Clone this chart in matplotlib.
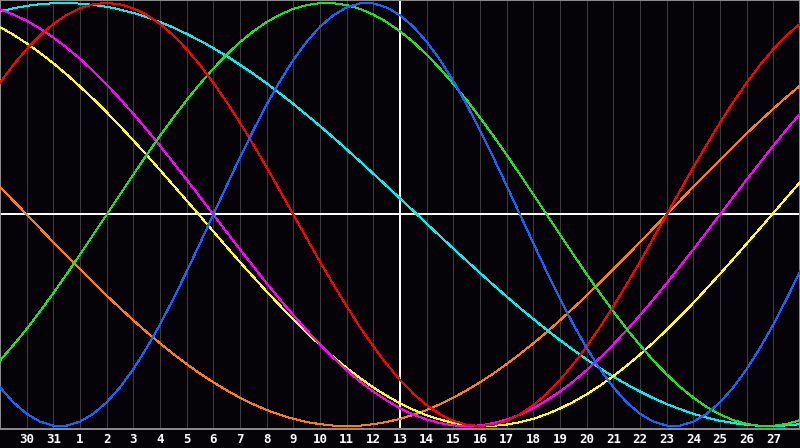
import numpy as np
import matplotlib
matplotlib.use("Agg")
import matplotlib.pyplot as plt

# positions in half-day steps, 0 = the 29th of last month
steps = np.arange(61) / 2.0

day_ticks = list(range(1, 30))
day_labels = ["30", "31"] + [str(d) for d in range(1, 28)]

# cycle values in percent, every half day
blue = [-81.7,-88.8,-94.2,-97.9,-99.8,-99.8,-97.9,-94.2,-88.8,-81.7,-73.1,-63.1,-52.0,-39.8,-27.0,-13.6,0.0,13.6,27.0,39.8,52.0,63.1,73.1,81.7,88.8,94.2,97.9,99.8,99.8,97.9,94.2,88.8,81.7,73.1,63.1,52.0,39.8,27.0,13.6,0.0,-13.6,-27.0,-39.8,-52.0,-63.1,-73.1,-81.7,-88.8,-94.2,-97.9,-99.8,-99.8,-97.9,-94.2,-88.8,-81.7,-73.1,-63.1,-52.0,-39.8,-27.0]
green = [-69.0,-61.8,-54.1,-45.8,-37.2,-28.2,-18.9,-9.5,0.0,9.5,18.9,28.2,37.2,45.8,54.1,61.8,69.0,75.6,81.5,86.6,91.0,94.5,97.2,99.0,99.9,99.9,99.0,97.2,94.5,91.0,86.6,81.5,75.6,69.0,61.8,54.1,45.8,37.2,28.2,18.9,9.5,0.0,-9.5,-18.9,-28.2,-37.2,-45.8,-54.1,-61.8,-69.0,-75.6,-81.5,-86.6,-91.0,-94.5,-97.2,-99.0,-99.9,-99.9,-99.0,-97.2]
red = [62.3,70.7,78.2,84.7,90.1,94.4,97.5,99.4,100.0,99.4,97.5,94.4,90.1,84.7,78.2,70.7,62.3,53.2,43.4,33.0,22.3,11.2,-0.0,-11.2,-22.3,-33.0,-43.4,-53.2,-62.3,-70.7,-78.2,-84.7,-90.1,-94.4,-97.5,-99.4,-100.0,-99.4,-97.5,-94.4,-90.1,-84.7,-78.2,-70.7,-62.3,-53.2,-43.4,-33.0,-22.3,-11.2,0.0,11.2,22.3,33.0,43.4,53.2,62.3,70.7,78.2,84.7,90.1]
magenta = [96.9,94.6,91.6,87.9,83.7,78.9,73.6,67.7,61.4,54.7,47.6,40.2,32.5,24.5,16.5,8.3,-0.0,-8.3,-16.5,-24.5,-32.5,-40.2,-47.6,-54.7,-61.4,-67.7,-73.6,-78.9,-83.7,-87.9,-91.6,-94.6,-96.9,-98.6,-99.7,-100.0,-99.7,-98.6,-96.9,-94.6,-91.6,-87.9,-83.7,-78.9,-73.6,-67.7,-61.4,-54.7,-47.6,-40.2,-32.5,-24.5,-16.5,-8.3,0.0,8.3,16.5,24.5,32.5,40.2,47.6]
yellow = [88.6,85.0,80.9,76.4,71.5,66.2,60.5,54.6,48.3,41.8,35.0,28.1,21.0,13.8,6.6,-0.7,-8.0,-15.3,-22.5,-29.5,-36.4,-43.1,-49.6,-55.8,-61.7,-67.3,-72.5,-77.3,-81.8,-85.7,-89.3,-92.3,-94.9,-96.9,-98.5,-99.5,-100.0,-99.9,-99.3,-98.2,-96.6,-94.4,-91.7,-88.6,-85.0,-80.9,-76.4,-71.5,-66.2,-60.5,-54.6,-48.3,-41.8,-35.0,-28.1,-21.0,-13.8,-6.6,0.7,8.0,15.3]
orange = [13.1,6.5,-0.0,-6.5,-13.1,-19.5,-25.9,-32.1,-38.3,-44.2,-50.0,-55.6,-60.9,-65.9,-70.7,-75.2,-79.3,-83.1,-86.6,-89.7,-92.4,-94.7,-96.6,-98.1,-99.1,-99.8,-100.0,-99.8,-99.1,-98.1,-96.6,-94.7,-92.4,-89.7,-86.6,-83.1,-79.3,-75.2,-70.7,-65.9,-60.9,-55.6,-50.0,-44.2,-38.3,-32.1,-25.9,-19.5,-13.1,-6.5,0.0,6.5,13.1,19.5,25.9,32.1,38.3,44.2,50.0,55.6,60.9]
cyan = [96.0,97.5,98.6,99.4,99.9,100.0,99.7,99.1,98.2,96.9,95.3,93.3,91.0,88.4,85.4,82.2,78.7,74.9,70.8,66.5,62.0,57.2,52.3,47.1,41.8,36.4,30.8,25.1,19.3,13.5,7.6,1.7,-4.3,-10.2,-16.1,-21.9,-27.6,-33.3,-38.8,-44.2,-49.4,-54.5,-59.4,-64.0,-68.5,-72.7,-76.6,-80.3,-83.7,-86.8,-89.6,-92.0,-94.2,-96.0,-97.5,-98.6,-99.4,-99.9,-100.0,-99.7,-99.1]

bg = "#050308"
px = 0.72  # one pixel at 100 dpi, in points
fig = plt.figure(figsize=(8, 4.48), dpi=100, facecolor=bg)
ax = fig.add_axes([0, 19 / 448, 1, 429 / 448], facecolor=bg)

# day grid
for d in day_ticks:
    ax.axvline(d, color="#3c3c3c", lw=px, antialiased=False, zorder=1)
ax.axhline(0, color="white", lw=2 * px, antialiased=False, zorder=2)
ax.axvline(15, color="white", lw=2 * px, antialiased=False, zorder=2)

series = [
    (orange, "#ff8000"),
    (cyan, "#00f0f0"),
    (yellow, "#ffff00"),
    (magenta, "#ff00ff"),
    (green, "#20e020"),
    (red, "#ff0000"),
    (blue, "#1464ff"),
]
for vals, col in series:
    ax.plot(steps, vals, color=col, lw=px, antialiased=False, zorder=3)

ax.set_xlim(0, 30)
ax.set_ylim(-101.4, 101.4)
ax.set_yticks([])
ax.set_xticks(day_ticks)
ax.set_xticklabels(day_labels, color="white", fontsize=9, fontweight="bold",
                   family="DejaVu Sans Mono")
ax.tick_params(axis="x", length=0, pad=3)
for s in ax.spines.values():
    s.set_color("#8a8a8a")
    s.set_linewidth(2 * px)

fig.savefig("out.png", dpi=100, facecolor=bg)
